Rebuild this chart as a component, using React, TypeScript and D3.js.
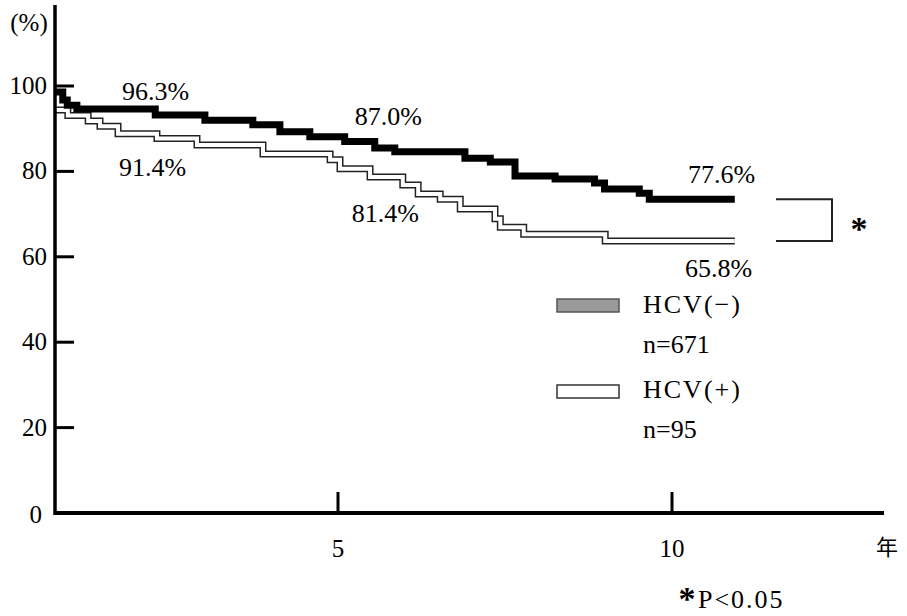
import React from "react";
import * as d3 from "d3";

// survival steps (year the step starts, % surviving)
const hcvNegYears = [0, 0.12, 0.2, 0.37, 1.76, 2.64, 3.49, 3.97, 4.5, 5.1, 5.55, 5.85, 6.9, 7.28, 7.65, 8.25, 8.84, 8.99, 9.51, 9.66];
const hcvNegSurv = [98.6, 96.7, 95.5, 94.6, 93.2, 92.0, 90.9, 89.3, 88.1, 87.0, 85.5, 84.6, 83.1, 82.2, 78.9, 78.2, 77.3, 75.9, 74.9, 73.5];
const hcvPosYears = [0, 0.21, 0.57, 0.78, 1.1, 1.79, 2.5, 3.67, 4.86, 5.03, 5.48, 5.97, 6.2, 6.53, 6.83, 7.35, 7.43, 7.78, 9.0];
const hcvPosSurv = [94.4, 93.1, 91.8, 90.6, 88.8, 87.7, 86.2, 84.1, 82.7, 80.6, 78.7, 76.8, 74.7, 73.5, 71.2, 68.9, 66.9, 65.3, 63.7];
const followUpEnd = 10.94;

const yTicks = [20, 40, 60, 80, 100];
const xTicks = [5, 10];

// rate labels
const negLabels = ["96.3%", "87.0%", "77.6%"];
const posLabels = ["91.4%", "81.4%", "65.8%"];
const labelYears = [1.17, 5.25, 10.24];

const legendNames = ["HCV(−)", "HCV(+)"];
const legendCounts = ["n=671", "n=95"];

const serif = { fontFamily: "'Liberation Serif', 'Times New Roman', serif" };

export default function App() {
  const width = 907;
  const height = 616;

  // the printed axis isn't uniform, so the scale is piecewise
  const x = d3.scaleLinear().domain([0, 5, 10]).range([56, 338, 672]);
  const y = d3.scaleLinear().domain([0, 100]).range([513, 86]);

  const line = d3
    .line<[number, number]>()
    .x((d) => x(d[0]))
    .y((d) => y(d[1]))
    .curve(d3.curveStepAfter);

  const negPts: [number, number][] = hcvNegYears.map((t, i) => [t, hcvNegSurv[i]]);
  negPts.push([followUpEnd, hcvNegSurv[hcvNegSurv.length - 1]]);
  const posPts: [number, number][] = hcvPosYears.map((t, i) => [t, hcvPosSurv[i]]);
  posPts.push([followUpEnd, hcvPosSurv[hcvPosSurv.length - 1]]);

  const negEnd = y(hcvNegSurv[hcvNegSurv.length - 1]);
  const posEnd = y(hcvPosSurv[hcvPosSurv.length - 1]);

  const negLabelY = [100, 125, 183];
  const posLabelY = [176, 222, 277];

  return (
    <svg width={width} height={height} style={{ position: "absolute", left: 0, top: 0, background: "#fff" }}>
      {/* curves: HCV(+) as an outlined white band, HCV(-) solid */}
      <path d={line(posPts) || ""} fill="none" stroke="#222" strokeWidth={7} />
      <path d={line(posPts) || ""} fill="none" stroke="#fff" strokeWidth={4} />
      <path d={line(negPts) || ""} fill="none" stroke="#000" strokeWidth={7} />

      {/* axes */}
      <line x1={55} x2={55} y1={5} y2={515} stroke="#000" strokeWidth={3.5} />
      <line x1={54} x2={884} y1={513} y2={513} stroke="#000" strokeWidth={4} />
      {yTicks.map((t) => (
        <g key={t}>
          <line x1={55} x2={74} y1={y(t)} y2={y(t)} stroke="#000" strokeWidth={3} />
          <text x={47} y={y(t) + 8} textAnchor="end" style={serif} fontSize={25}>
            {t}
          </text>
        </g>
      ))}
      <text x={42} y={y(0) + 10} textAnchor="end" style={serif} fontSize={25}>0</text>
      <text x={29} y={31} textAnchor="middle" style={serif} fontSize={25}>(%)</text>
      {xTicks.map((t) => (
        <g key={t}>
          <line x1={x(t)} x2={x(t)} y1={492} y2={513} stroke="#000" strokeWidth={3} />
          <text x={x(t)} y={557} textAnchor="middle" style={serif} fontSize={25}>
            {t}
          </text>
        </g>
      ))}
      <text x={887} y={555} textAnchor="middle" fontFamily="Noto Sans CJK JP, sans-serif" fontSize={22}>年</text>

      {/* rate labels */}
      {negLabels.map((s, i) => (
        <text key={s} x={x(labelYears[i])} y={negLabelY[i]} style={serif} fontSize={26}>{s}</text>
      ))}
      {posLabels.map((s, i) => (
        <text key={s} x={x(labelYears[i]) - 3} y={posLabelY[i]} style={serif} fontSize={26}>{s}</text>
      ))}

      {/* significance bracket */}
      <path d={`M776,${negEnd}H832V${posEnd}H776`} fill="none" stroke="#222" strokeWidth={2} />
      <text x={859} y={240} textAnchor="middle" style={serif} fontWeight="bold" fontSize={34}>*</text>

      {/* legend */}
      <rect x={557} y={299} width={62} height={13} fill="#9a9a9a" stroke="#555" strokeWidth={1.5} />
      <rect x={557} y={385} width={62} height={13} fill="#fff" stroke="#333" strokeWidth={1.5} />
      {legendNames.map((s, i) => (
        <text key={s} x={643} y={313 + i * 85} style={serif} fontSize={26} letterSpacing={2}>{s}</text>
      ))}
      {legendCounts.map((s, i) => (
        <text key={s} x={643} y={353 + i * 85} style={serif} fontSize={26}>{s}</text>
      ))}

      {/* footnote */}
      <text x={687} y={610} textAnchor="middle" style={serif} fontWeight="bold" fontSize={34}>*</text>
      <text x={698} y={608} style={serif} fontSize={26} letterSpacing={2}>P&lt;0.05</text>
    </svg>
  );
}
